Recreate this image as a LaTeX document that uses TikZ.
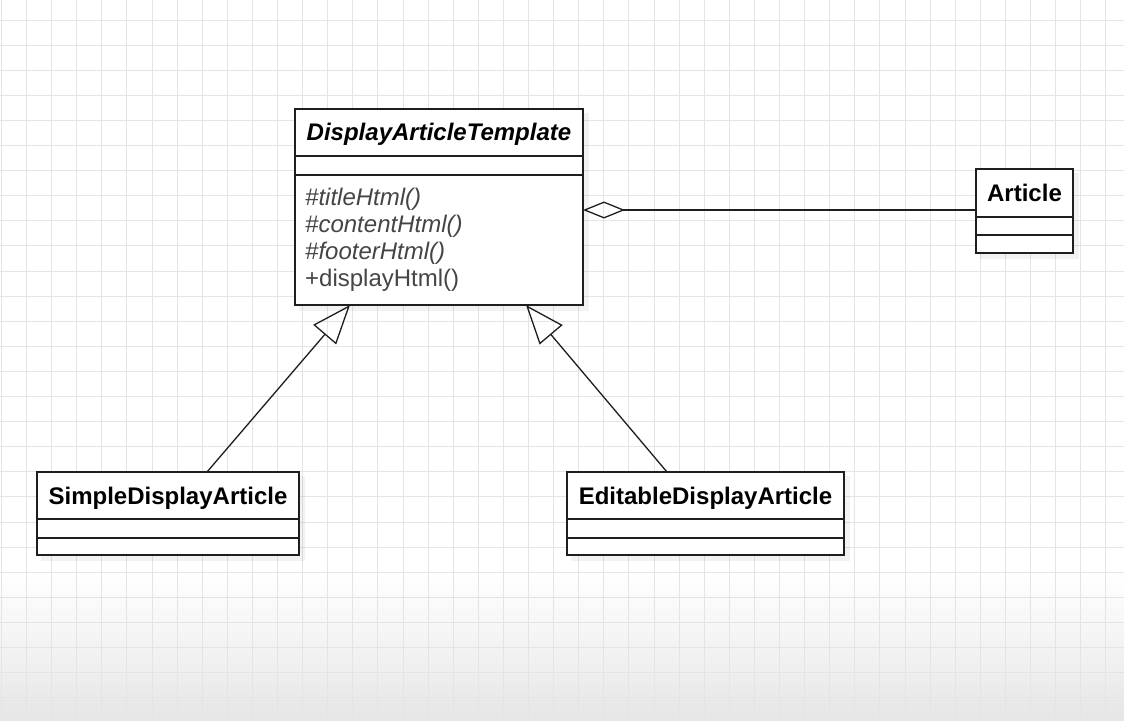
\documentclass[tikz,border=0pt]{standalone}
\usepackage{fontspec}
\setmainfont{Liberation Sans}
\usetikzlibrary{arrows.meta}
\definecolor{gridc}{HTML}{E4E4E4}
\definecolor{linec}{HTML}{1E1E1E}
\definecolor{methc}{HTML}{454545}
\begin{document}
\begin{tikzpicture}[x=1pt,y=-1pt,
  cls/.style={draw=linec, line width=1.4pt, fill=white, inner sep=0pt},
  sep/.style={draw=linec, line width=1.4pt},
  ttl/.style={anchor=base, inner sep=0pt, font=\fontsize{24}{28}\selectfont\bfseries, text=black},
  meth/.style={anchor=base west, inner sep=0pt, font=\fontsize{24}{28}\selectfont, text=methc},
  inherit/.style={draw=linec, line width=1.3pt, -{Triangle[open, length=39pt, width=30pt]}},
  aggr/.style={draw=linec, line width=1.3pt, {Diamond[open, length=42pt, width=17pt]}-},
  shadowbox/.style={fill=black, opacity=0.05}
]
\useasboundingbox (0,0) rectangle (1124,720);
\fill[white] (0,0) rectangle (1124,720);
\shade[top color=white, bottom color=black!10] (0,575) rectangle (1124,720);
\foreach \i in {0,...,44} \draw[gridc, line width=0.9pt] ({1.4+25.1*\i},0) -- ++(0,720);
\foreach \j in {0,...,28} \draw[gridc, line width=0.9pt] (0,{-5.1+25.1*\j}) -- ++(1124,0);

% shadows
\fill[shadowbox] (299,113) rectangle (589,311);
\fill[shadowbox] (980,173) rectangle (1079,259);
\fill[shadowbox] (41,476) rectangle (305,561);
\fill[shadowbox] (571,476) rectangle (850,561);

% DisplayArticleTemplate
\node[cls, minimum width=288pt, minimum height=196pt] (dat) at (439,207) {};
\draw[sep] (dat.west |- 0,156) -- (dat.east |- 0,156);
\draw[sep] (dat.west |- 0,175) -- (dat.east |- 0,175);
\node[ttl] (datT) at (439,140) {\itshape DisplayArticleTemplate};
\node[meth] (m1) at (305,205) {\itshape\#titleHtml()};
\node[meth] (m2) at (305,232) {\itshape\#contentHtml()};
\node[meth] (m3) at (305,259) {\itshape\#footerHtml()};
\node[meth] (m4) at (305,286) {+displayHtml()};

% Article
\node[cls, minimum width=97pt, minimum height=84pt] (art) at (1024.5,211) {};
\draw[sep] (art.west |- 0,217) -- (art.east |- 0,217);
\draw[sep] (art.west |- 0,235) -- (art.east |- 0,235);
\node[ttl] (artT) at (1024.5,201.5) {Article};

% SimpleDisplayArticle
\node[cls, minimum width=262pt, minimum height=83pt] (sda) at (168,513.5) {};
\draw[sep] (sda.west |- 0,519) -- (sda.east |- 0,519);
\draw[sep] (sda.west |- 0,538) -- (sda.east |- 0,538);
\node[ttl] (sdaT) at (168,504) {SimpleDisplayArticle};

% EditableDisplayArticle
\node[cls, minimum width=277pt, minimum height=83pt] (eda) at (705.5,513.5) {};
\draw[sep] (eda.west |- 0,519) -- (eda.east |- 0,519);
\draw[sep] (eda.west |- 0,538) -- (eda.east |- 0,538);
\node[ttl] (edaT) at (705.5,504) {EditableDisplayArticle};

% connectors
\coordinate (sdaTop) at (207,472);
\coordinate (datBL) at (350,305);
\coordinate (edaTop) at (667,472);
\coordinate (datBR) at (526,305);
\coordinate (aggL) at (583,210);
\coordinate (aggR) at (976,210);
\draw[inherit] (sdaTop) -- (datBL);
\draw[inherit] (edaTop) -- (datBR);
\draw[aggr] (aggL) -- (aggR);
\end{tikzpicture}
\end{document}
